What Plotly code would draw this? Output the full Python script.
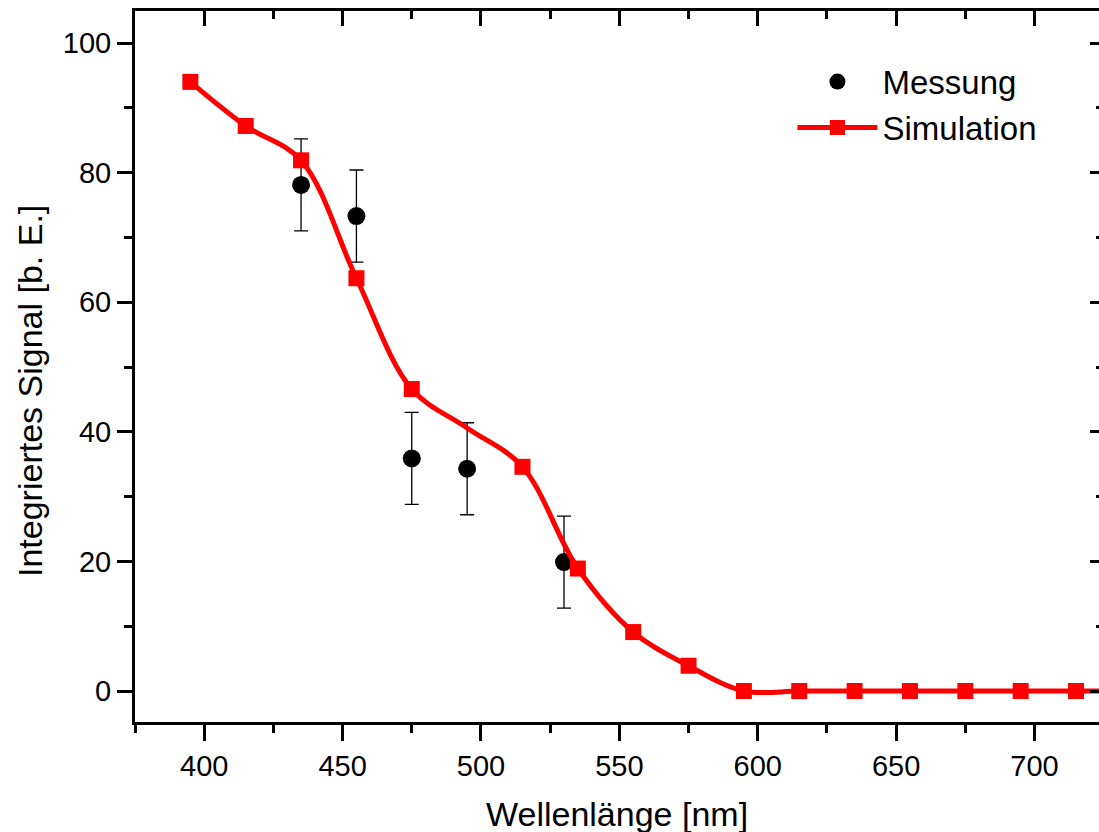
import plotly.graph_objects as go

# Simulation (markers every 20 nm; 495 is a curve point without marker)
sim_x = [395, 415, 435, 455, 475, 495, 515, 535, 555, 575, 595, 615, 635, 655, 675, 695, 715, 735]
sim_y = [94.0, 87.2, 81.9, 63.7, 46.6, 40.6, 34.6, 18.9, 9.1, 3.9, 0.0, 0.0, 0.0, 0.0, 0.0, 0.0, 0.0, 0.0]
sim_marker = [True, True, True, True, True, False, True, True, True, True, True, True, True, True, True, True, True, True]

# Messung with error bars
mes_x = [435, 455, 475, 495, 530]
mes_y = [78.1, 73.3, 35.9, 34.3, 19.9]
mes_err = [7.1, 7.1, 7.1, 7.1, 7.1]

FONT = "Liberation Sans, Arial, sans-serif"

fig = go.Figure()

fig.add_trace(go.Scatter(
    x=mes_x, y=mes_y, mode="markers", name="Messung",
    marker=dict(symbol="circle", size=18, color="black", opacity=1, line=dict(width=0)),
    error_y=dict(type="data", array=mes_err, visible=True, color="black", thickness=1.3, width=7),
))

fig.add_trace(go.Scatter(
    x=sim_x, y=sim_y, mode="lines+markers", name="Simulation",
    line=dict(color="#ff0000", width=5, shape="spline", smoothing=1.0),
    marker=dict(symbol="square", size=[16 if m else 0 for m in sim_marker], color="#ff0000",
                opacity=1, line=dict(width=0)),
))

# empty trace to draw mirror axes with inward ticks
fig.add_trace(go.Scatter(x=[], y=[], xaxis="x2", yaxis="y2", showlegend=False, hoverinfo="skip"))

xr = [375, 723.3]
yr = [-4.78, 104.94]

fig.update_layout(
    width=1099, height=832,
    margin=dict(l=135, r=0, t=11, b=110),
    paper_bgcolor="white", plot_bgcolor="white",
    font=dict(family=FONT, size=29, color="black"),
    showlegend=True,
    legend=dict(x=0.682, y=0.94, xanchor="left", yanchor="top", bgcolor="rgba(0,0,0,0)",
                font=dict(size=33), itemwidth=80, itemsizing="trace", tracegroupgap=0),
    xaxis=dict(range=xr, tickmode="linear", tick0=400, dtick=50, ticks="outside", ticklen=16, tickwidth=3,
               tickcolor="black", showline=True, linewidth=3, linecolor="black", showgrid=False, zeroline=False,
               minor=dict(tickmode="linear", tick0=375, dtick=25, ticks="outside", ticklen=8, tickwidth=3, tickcolor="black", showgrid=False),
               tickfont=dict(size=29)),
    yaxis=dict(range=yr, tickmode="linear", tick0=0, dtick=20, ticks="outside", ticklen=15, tickwidth=3,
               tickcolor="black", showline=True, linewidth=3, linecolor="black", showgrid=False, zeroline=False,
               minor=dict(tickmode="linear", tick0=0, dtick=10, ticks="outside", ticklen=8, tickwidth=3, tickcolor="black", showgrid=False),
               tickfont=dict(size=29)),
    xaxis2=dict(range=xr, overlaying="x", side="top", tickmode="linear", tick0=400, dtick=50, ticks="inside", ticklen=15,
                tickwidth=3, tickcolor="black", showline=True, linewidth=3, linecolor="black", showticklabels=False,
                showgrid=False, zeroline=False,
                minor=dict(tickmode="linear", tick0=375, dtick=25, ticks="inside", ticklen=8, tickwidth=3, tickcolor="black", showgrid=False)),
    yaxis2=dict(range=yr, overlaying="y", side="right", tickmode="linear", tick0=0, dtick=20, ticks="inside", ticklen=9,
                tickwidth=3, tickcolor="black", showline=False, showticklabels=False, showgrid=False, zeroline=False,
                minor=dict(tickmode="linear", tick0=0, dtick=10, ticks="inside", ticklen=3, tickwidth=3, tickcolor="black", showgrid=False)),
    annotations=[
        dict(text="Wellenlänge [nm]", xref="paper", yref="paper", x=0.5, y=-(814 - 722) / 711, yanchor="middle",
             xanchor="center", showarrow=False, font=dict(size=34)),
        dict(text="Integriertes Signal [b. E.]", xref="paper", yref="paper", x=0, xshift=-105, y=(722 - 391) / 711,
             yanchor="middle", xanchor="center", textangle=-90, showarrow=False, font=dict(size=34)),
    ],
)

fig.write_html("out.html", config={"displayModeBar": False},
               post_script="document.body.style.margin='0';document.body.style.overflow='hidden';")
